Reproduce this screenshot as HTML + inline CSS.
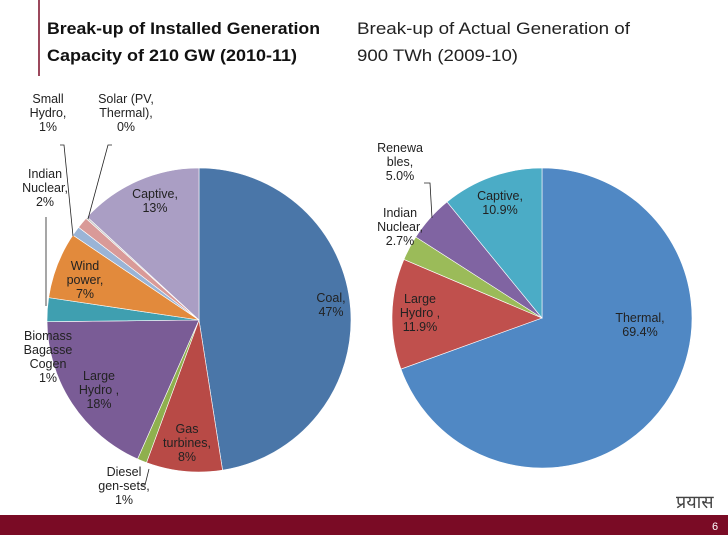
<!DOCTYPE html>
<html><head><meta charset="utf-8"><style>
body{margin:0;width:728px;height:546px;background:#fff;overflow:hidden;font-family:"Liberation Sans",sans-serif;}
svg{position:absolute;left:0;top:0}
</style></head><body>
<svg id="s" width="728" height="546">
<line x1="39" y1="0" x2="39" y2="76" stroke="#7a0b25" stroke-width="1.5"/>
<text x="47" y="34" font-size="17" font-weight="bold" fill="#111"><tspan x="47" textLength="273" lengthAdjust="spacingAndGlyphs">Break-up of Installed Generation</tspan><tspan x="47" y="61" textLength="250" lengthAdjust="spacingAndGlyphs">Capacity of 210 GW (2010-11)</tspan></text>
<text x="357" y="34" font-size="17" fill="#222"><tspan x="357" textLength="273" lengthAdjust="spacingAndGlyphs">Break-up of Actual Generation of</tspan><tspan x="357" y="61" textLength="161" lengthAdjust="spacingAndGlyphs">900 TWh (2009-10)</tspan></text>
<g id="left"></g>
<g id="right"></g>
<rect x="0" y="515" width="728" height="20" fill="#7a0b25"/>
<text x="712" y="530" font-size="11" fill="#fff">6</text>
<text x="676" y="508" font-size="18" fill="#444" font-family="'Liberation Serif',serif">प्रयास</text>
</svg>
<script>
const leftCats=["Coal","Gas turbines","Diesel gen-sets","Large Hydro","Indian Nuclear","Wind power","Biomass Bagasse Cogen","Small Hydro","Solar (PV, Thermal)","Captive"];
const leftVals=[47,8,1,18,2.5,7,1,1.2,0.2,13];
const rightCats=["Thermal","Large Hydro","Indian Nuclear","Renewables","Captive"];
const rightVals=[69.4,11.9,2.7,5.0,10.9];
const leftColors=["#4a76a8","#b84a46","#8fb04e","#7a5c96","#3f9fb0","#e28a3c","#9ab4d6","#d99a98","#c8c8c8","#aa9ec4"];
const rightColors=["#5088c4","#c0504d","#9bbb59","#8064a2","#4bacc6"];
const NS="http://www.w3.org/2000/svg";
function pie(g,vals,cats,cols,cx,cy,r){
  const tot=vals.reduce((a,b)=>a+b,0);let a0=0;
  vals.forEach((v,i)=>{
    const a1=a0+v/tot*2*Math.PI;
    const x0=cx+r*Math.sin(a0),y0=cy-r*Math.cos(a0),x1=cx+r*Math.sin(a1),y1=cy-r*Math.cos(a1);
    const p=document.createElementNS(NS,"path");
    p.setAttribute("d",`M${cx},${cy}L${x0},${y0}A${r},${r} 0 ${a1-a0>Math.PI?1:0} 1 ${x1},${y1}Z`);
    p.setAttribute("fill",cols[i]);p.setAttribute("stroke","#fff");p.setAttribute("stroke-width","0.6");
    
    
    g.appendChild(p);a0=a1;
  });
}
pie(document.getElementById("left"),leftVals,leftCats,leftColors,199,320,152);
pie(document.getElementById("right"),rightVals,rightCats,rightColors,542,318,150);
const labels=[
 [331,302,["Coal,","47%"]],[155,198,["Captive,","13%"]],[85,270,["Wind","power,","7%"]],
 [48,103,["Small","Hydro,","1%"]],[126,103,["Solar (PV,","Thermal),","0%"]],[45,178,["Indian","Nuclear,","2%"]],
 [48,340,["Biomass","Bagasse","Cogen","1%"]],[99,380,["Large","Hydro ,","18%"]],[187,433,["Gas","turbines,","8%"]],
 [124,476,["Diesel","gen-sets,","1%"]],
 [640,322,["Thermal,","69.4%"]],[420,303,["Large","Hydro ,","11.9%"]],[400,217,["Indian","Nuclear,","2.7%"]],
 [400,152,["Renewa","bles,","5.0%"]],[500,200,["Captive,","10.9%"]]];
const svg=document.getElementById("s");
labels.forEach(l=>{
  const t=document.createElementNS(NS,"text");
  t.setAttribute("x",l[0]);t.setAttribute("y",l[1]);t.setAttribute("font-size","12.5");
  t.setAttribute("text-anchor","middle");t.setAttribute("fill","#222");
  
  
  l[2].forEach((s,i)=>{const ts=document.createElementNS(NS,"tspan");ts.setAttribute("x",l[0]);ts.setAttribute("dy",i?14:0);ts.textContent=s;t.appendChild(ts);});
  svg.appendChild(t);
});
const leaders=[[60,145,64,145,73,236],[112,145,108,145,88,219],[46,217,46,306],[424,183,430,183,432,218],[141,485,145,485,149,469]];
leaders.forEach(p=>{
  const pl=document.createElementNS(NS,"polyline");
  pl.setAttribute("points",p.join(" "));pl.setAttribute("fill","none");pl.setAttribute("stroke","#222");pl.setAttribute("stroke-width","0.8");
  
  
  svg.appendChild(pl);
});
</script>
</body></html>
